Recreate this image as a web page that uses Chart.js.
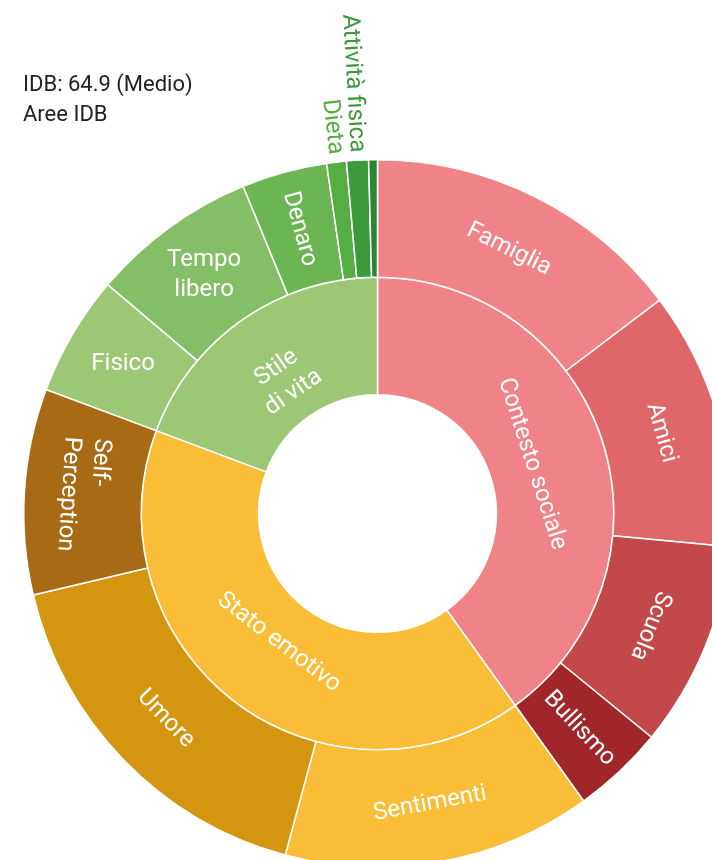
<!DOCTYPE html>
<html>
<head>
<meta charset="utf-8">
<script src="https://cdn.jsdelivr.net/npm/chart.js@4.4.1/dist/chart.umd.min.js"></script>
<style>
  html, body { margin: 0; padding: 0; background: #fff; overflow: hidden; }
  #grafico { display: block; }
</style>
</head>
<body>
<canvas id="grafico" width="760" height="900"></canvas>
<script>
// testo in alto a sinistra
const titoloRighe = ['IDB: 64.9 (Medio)', 'Aree IDB'];

// anello interno (aree)
const aree = ['Contesto sociale', 'Stato emotivo', 'Stile di vita'];
const coloriAree = ['#F08387', '#F9BD38', '#9CC876'];

// anello esterno (sotto-aree), in percentuale del totale
const sottoAree = ['Famiglia', 'Amici', 'Scuola', 'Bullismo',
  'Sentimenti', 'Umore', 'Self-Perception',
  'Fisico', 'Tempo libero', 'Denaro', 'Dieta', 'Attività fisica', 'Altro'];
const valoriSottoAree = [14.7, 11.8, 9.4, 4.2,
  14.1, 17.1, 9.4,
  5.5, 7.6, 3.9, 0.9, 1.0, 0.4];
const areaDiAppartenenza = [0, 0, 0, 0, 1, 1, 1, 2, 2, 2, 2, 2, 2];
const coloriSottoAree = ['#F08387', '#DF6769', '#C2484A', '#A02629',
  '#F9BD38', '#D49510', '#A86A14',
  '#9CC876', '#84BE66', '#6CB553', '#55AE41', '#3D9A3A', '#2A8634'];

// il valore di ogni area e' la somma delle sue sotto-aree
const valoriAree = aree.map((a, i) =>
  valoriSottoAree.reduce((s, v, j) => s + (areaDiAppartenenza[j] === i ? v : 0), 0));

const FONT = 'Roboto, "Open Sans", sans-serif';

// come scrivere le etichette (orientamento, righe, esterne)
const stileEtichette = {
  'Stile di vita': { righe: ['Stile', 'di vita'] },
  'Tempo libero': { orient: 'orizzontale', righe: ['Tempo', 'libero'] },
  'Fisico': { orient: 'orizzontale' },
  'Self-Perception': { righe: ['Self-', 'Perception'], allinea: 'left' },
  'Bullismo': { orient: 'radiale' },
  'Denaro': { orient: 'radiale' },
  'Dieta': { orient: 'radiale', esterna: true },
  'Attività fisica': { orient: 'radiale', esterna: true },
  'Altro': { nascosta: true }
};

function normalizza(gradi, min, max) {
  while (gradi >= max) gradi -= 180;
  while (gradi < min) gradi += 180;
  return gradi;
}

const etichettePlugin = {
  id: 'etichette',
  afterDraw(chart) {
    const ctx = chart.ctx;
    ctx.save();
    // titolo
    ctx.fillStyle = '#222';
    ctx.font = '22px ' + FONT;
    ctx.textAlign = 'left';
    ctx.textBaseline = 'alphabetic';
    titoloRighe.forEach((t, i) => ctx.fillText(t, 23, 91 + i * 29.5));

    ctx.font = '24px ' + FONT;
    const altezzaRiga = 30;
    chart.data.datasets.forEach((ds, di) => {
      const meta = chart.getDatasetMeta(di);
      meta.data.forEach((arc, i) => {
        const nome = ds.nomi[i];
        const st = stileEtichette[nome] || {};
        if (st.nascosta) return;
        const p = arc.getProps(['x', 'y', 'startAngle', 'endAngle', 'innerRadius', 'outerRadius'], true);
        const medio = (p.startAngle + p.endAngle) / 2;
        const gradi = medio * 180 / Math.PI + 90; // in senso orario dall'alto
        const orient = st.orient || 'tangenziale';
        let rot;
        if (orient === 'orizzontale') rot = 0;
        else if (orient === 'radiale') rot = normalizza(gradi - 90, -90, 90);
        else rot = normalizza(gradi, -90, 135);

        const righe = st.righe || [nome];
        let r, allinea = st.allinea || 'center';
        if (st.esterna) {
          r = p.outerRadius + 8;
          // la lettura va verso il centro: il testo finisce vicino all'anello
          const dirLettura = (rot + 360) % 360;
          const radiale = (gradi - 90 + 360) % 360;
          const versoCentro = Math.abs(((dirLettura - radiale + 540) % 360) - 180) > 90;
          allinea = versoCentro ? 'right' : 'left';
          ctx.fillStyle = ds.backgroundColor[i];
        } else {
          const frazione = di === 1 ? 0.37 : 0.5;
          r = p.innerRadius + (p.outerRadius - p.innerRadius) * frazione;
          ctx.fillStyle = '#fff';
        }
        const cx = p.x + r * Math.cos(medio);
        const cy = p.y + r * Math.sin(medio);
        ctx.save();
        ctx.translate(cx, cy);
        ctx.rotate(rot * Math.PI / 180);
        ctx.textBaseline = 'middle';
        const largh = Math.max(...righe.map(t => ctx.measureText(t).width));
        righe.forEach((t, k) => {
          const y = (k - (righe.length - 1) / 2) * altezzaRiga;
          if (allinea === 'left' && !st.esterna) {
            ctx.textAlign = 'left';
            ctx.fillText(t, -largh / 2, y);
          } else {
            ctx.textAlign = allinea;
            ctx.fillText(t, 0, y);
          }
        });
        ctx.restore();
      });
    });
    ctx.restore();
  }
};

new Chart(document.getElementById('grafico'), {
  type: 'doughnut',
  data: {
    labels: sottoAree,
    datasets: [
      {
        nomi: sottoAree,
        data: valoriSottoAree,
        backgroundColor: coloriSottoAree,
        borderColor: '#fff',
        borderWidth: 1.5,
        hoverBorderWidth: 1.5
      },
      {
        nomi: aree,
        data: valoriAree,
        backgroundColor: coloriAree,
        borderColor: '#fff',
        borderWidth: 1.5,
        hoverBorderWidth: 1.5
      }
    ]
  },
  options: {
    responsive: false,
    animation: false,
    events: [],
    cutout: '33.6%',
    layout: { padding: { left: 23, top: 159, right: 28, bottom: 32 } },
    plugins: {
      legend: { display: false },
      title: { display: false },
      tooltip: { enabled: false }
    }
  },
  plugins: [etichettePlugin]
});
</script>
</body>
</html>
